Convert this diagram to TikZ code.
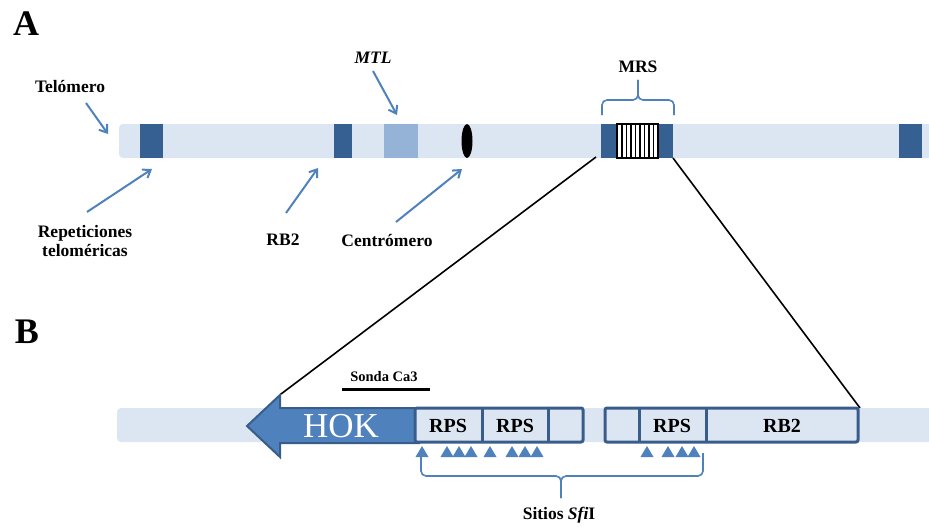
\documentclass[tikz,border=0pt]{standalone}
\usepackage{fontspec}
\setmainfont{Liberation Serif}
\usetikzlibrary{arrows.meta}
\definecolor{barlight}{HTML}{DCE6F2}
\definecolor{banddark}{HTML}{376092}
\definecolor{bandmid}{HTML}{95B3D7}
\definecolor{arrowblue}{HTML}{4F81BD}
\definecolor{boxborder}{HTML}{385D8A}
\begin{document}
\begin{tikzpicture}[x=1pt,y=-1pt,
  lbl/.style={font=\bfseries\fontsize{17.5}{19}\selectfont, inner sep=0pt, align=center},
  biglbl/.style={font=\bfseries\fontsize{36}{38}\selectfont, inner sep=0pt},
  boxlbl/.style={font=\bfseries\fontsize{20}{22}\selectfont, inner sep=0pt},
  ptr/.style={draw=arrowblue, line width=2pt, -{Straight Barb[length=7pt,width=10pt]}},
  brace/.style={draw=arrowblue, line width=1.6pt, rounded corners=5pt},
  zoomline/.style={draw=black, line width=1.6pt},
  segbox/.style={draw=boxborder, line width=3pt, fill=barlight, rounded corners=2pt},
  divider/.style={draw=boxborder, line width=3pt},
  tri/.style={fill=arrowblue}]
\useasboundingbox (0,0) rectangle (929,527);

% ---------- A ----------
\node[biglbl] (labA) at (26,24) {A};

% chromosome bar
\fill[barlight, rounded corners=4pt] (929,124) -- (119,124) -- (119,158) -- (929,158);
\fill[banddark] (140,124) rectangle (163,158);
\fill[banddark] (334,124) rectangle (352,158);
\fill[bandmid] (384,124) rectangle (418,158);
\fill[black] (467,141) ellipse [x radius=5.5, y radius=17];
\fill[banddark] (601,124) rectangle (673,158);
\fill[banddark] (899,124) rectangle (922,158);
\draw[fill=white, line width=1.5pt] (617,124) rectangle (658,158);
\foreach \x in {622,626.5,631,635.5,640,644.5,649,653.5}
  \draw[line width=1.3pt] (\x,124) -- (\x,158);

% labels A
\node[lbl] (telomero) at (70,87) {Telómero};
\node[lbl] (mtl) at (373,58) {\textit{MTL}};
\node[lbl] (repet) at (85,241) {Repeticiones\\teloméricas};
\node[lbl] (rb2top) at (283,240) {RB2};
\node[lbl] (centro) at (387,241) {Centrómero};
\node[lbl] (mrs) at (638,67) {MRS};

% pointer arrows
\coordinate (telS) at (86,103);  \coordinate (telE) at (108,134);
\coordinate (mtlS) at (373,71);  \coordinate (mtlE) at (397,115);
\coordinate (repS) at (87,212);  \coordinate (repE) at (152,169);
\coordinate (rbS) at (286,213);  \coordinate (rbE) at (318,168);
\coordinate (cenS) at (396,222); \coordinate (cenE) at (462,169);
\draw[ptr] (telS) -- (telE);
\draw[ptr] (mtlS) -- (mtlE);
\draw[ptr] (repS) -- (repE);
\draw[ptr] (rbS) -- (rbE);
\draw[ptr] (cenS) -- (cenE);

% MRS brace
\coordinate (mbL) at (602,115); \coordinate (mbR) at (674,115); \coordinate (mbT) at (638,80);
\draw[brace] (mbL) -- (602,100) -- (638,100) -- (mbT);
\draw[brace] (mbR) -- (674,100) -- (638,100) -- (mbT);

% ---------- B ----------
\node[biglbl] (labB) at (27,332) {B};

% bottom bar
\fill[barlight, rounded corners=4pt] (929,408) -- (117,408) -- (117,442) -- (929,442);

% HOK arrow
\draw[draw=boxborder, fill=arrowblue, line width=2pt, line join=miter]
  (420,408) -- (280,408) -- (280,395) -- (247,426) -- (280,457) -- (280,443) -- (420,443);
\node[text=white, font=\fontsize{35}{36}\selectfont, inner sep=0pt] (hok) at (341,426) {HOK};

% box group 1
\draw[segbox] (415,408) rectangle (583,442);
\draw[divider] (482,408) -- (482,442);
\draw[divider] (548,408) -- (548,442);
\node[boxlbl] (rps1) at (448,426) {RPS};
\node[boxlbl] (rps2) at (515,426) {RPS};

% box group 2
\draw[segbox] (605,408) rectangle (858,442);
\draw[divider] (639,408) -- (639,442);
\draw[divider] (706,408) -- (706,442);
\node[boxlbl] (rps3) at (672,426) {RPS};
\node[boxlbl] (rb2b) at (782,426) {RB2};

% zoom lines
\coordinate (mrsL) at (596,157); \coordinate (hokTop) at (281,394);
\coordinate (mrsR) at (673,158); \coordinate (box2R) at (860,408);
\draw[zoomline] (mrsL) -- (hokTop);
\draw[zoomline] (mrsR) -- (box2R);

% Sonda Ca3
\node[font=\bfseries\fontsize{14.5}{16}\selectfont, inner sep=0pt] (sonda) at (384,377) {Sonda Ca3};
\coordinate (sl) at (342,389); \coordinate (sr) at (430,389);
\draw[line width=3pt] (sl) -- (sr);

% SfiI sites
\foreach \x in {422,447,459,471,490,512,525,537,647,668,682,694}
  \fill[tri] ({\x-6.5},457) -- (\x,446) -- ({\x+6.5},457) -- cycle;

% bottom brace
\coordinate (bbL) at (421,452); \coordinate (bbR) at (703,453); \coordinate (bbT) at (561,498);
\draw[brace] (bbL) -- (421,476) -- (561,476) -- (bbT);
\draw[brace] (bbR) -- (703,476) -- (561,476) -- (bbT);
\node[lbl] (sitios) at (559,515) {Sitios \textit{Sfi}I};
\end{tikzpicture}
\end{document}
